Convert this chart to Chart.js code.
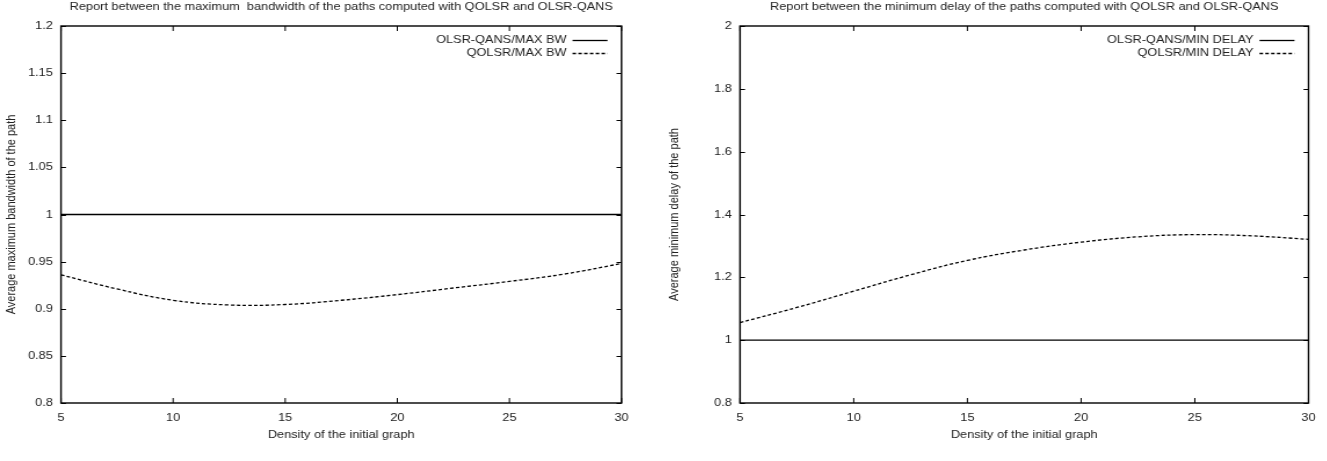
<!DOCTYPE html>
<html>
<head>
<meta charset="utf-8">
<script src="https://cdn.jsdelivr.net/npm/chart.js@4"></script>
<style>
  html, body { margin: 0; padding: 0; background: #fff; overflow: hidden; }
  /* the reference is stretched horizontally, so draw narrow and stretch */
  .wrap { position: absolute; top: 0; height: 461px; width: 572px;
          transform: scaleX(1.16); transform-origin: 0 0; }
  #left { left: 0; }
  #right { left: 663px; }
</style>
</head>
<body>
<div class="wrap" id="left"><canvas id="bwChart"></canvas></div>
<div class="wrap" id="right"><canvas id="delayChart"></canvas></div>
<script>
// density of the initial graph
const densities = [5, 7.5, 10, 12.5, 15, 17.5, 20, 22.5, 25, 27.5, 30];

// left: bandwidth ratio
const olsrMaxBw = [1, 1, 1, 1, 1, 1, 1, 1, 1, 1, 1];
const qolsrMaxBw = [0.936, 0.921, 0.909, 0.904, 0.9045, 0.909, 0.915, 0.922, 0.929, 0.937, 0.948];

// right: delay ratio
const olsrMinDelay = [1, 1, 1, 1, 1, 1, 1, 1, 1, 1, 1];
const qolsrMinDelay = [1.056, 1.104, 1.156, 1.208, 1.254, 1.287, 1.312, 1.329, 1.336, 1.332, 1.321];

const xTicks = [5, 10, 15, 20, 25, 30];
const bwTicks = [0.8, 0.85, 0.9, 0.95, 1, 1.05, 1.1, 1.15, 1.2];
const delayTicks = [0.8, 1, 1.2, 1.4, 1.6, 1.8, 2];

const K = 1.16; // horizontal stretch
const FONT = 'Liberation Sans, Arial, sans-serif';
const TXT = '#222';

const toPoints = (ys) => ys.map((y, i) => ({ x: densities[i], y: y }));

// gnuplot-ish frame: title over the plot, border, inward ticks on all sides, legend inside top right
const framePlugin = {
  id: 'frame',
  afterDatasetsDraw(chart, args, opts) {
    const { ctx, chartArea: a, scales } = chart;
    ctx.save();
    ctx.font = '11px ' + FONT;
    ctx.fillStyle = TXT;
    ctx.textAlign = 'center';
    ctx.textBaseline = 'middle';
    ctx.fillText(opts.title, (a.left + a.right) / 2, 7);

    ctx.strokeStyle = '#000';
    ctx.lineWidth = 1;
    ctx.beginPath();
    scales.x.ticks.forEach(tk => {
      const px = scales.x.getPixelForValue(tk.value);
      ctx.moveTo(px, a.bottom); ctx.lineTo(px, a.bottom - 5);
      ctx.moveTo(px, a.top); ctx.lineTo(px, a.top + 5);
    });
    scales.y.ticks.forEach(tk => {
      const py = Math.round(scales.y.getPixelForValue(tk.value)) + 0.5;
      ctx.moveTo(a.left, py); ctx.lineTo(a.left + 5 / K, py);
      ctx.moveTo(a.right, py); ctx.lineTo(a.right - 5 / K, py);
    });
    ctx.stroke();
    ctx.lineWidth = 1.4;
    ctx.strokeRect(a.left, a.top, a.right - a.left, a.bottom - a.top);

    // legend
    ctx.textAlign = 'right';
    chart.data.datasets.forEach((ds, i) => {
      const y = a.top + 14 + i * 13;
      ctx.fillText(ds.label, a.right - 55 / K, y);
      ctx.beginPath();
      ctx.setLineDash(ds.borderDash || []);
      ctx.lineWidth = ds.borderWidth;
      ctx.moveTo(a.right - 49 / K, y + 0.5);
      ctx.lineTo(a.right - 14 / K, y + 0.5);
      ctx.stroke();
    });
    ctx.restore();
  }
};

function makeChart(id, cfg) {
  return new Chart(document.getElementById(id), {
    type: 'line',
    data: {
      datasets: [
        { label: cfg.labels[0], data: toPoints(cfg.solid), borderColor: '#000', borderWidth: 1.3,
          pointRadius: 0, tension: 0 },
        { label: cfg.labels[1], data: toPoints(cfg.dashed), borderColor: '#000', borderWidth: 1.3,
          borderDash: [3, 2], pointRadius: 0, tension: 0.4 }
      ]
    },
    options: {
      responsive: true,
      maintainAspectRatio: false,
      animation: false,
      layout: { padding: { left: 0, right: cfg.padRight / K, top: 26, bottom: 0 } },
      plugins: {
        legend: { display: false },
        tooltip: { enabled: false },
        frame: { title: cfg.title }
      },
      scales: {
        x: {
          type: 'linear', min: 5, max: 30,
          afterBuildTicks: (s) => { s.ticks = xTicks.map(v => ({ value: v })); },
          afterFit: (s) => { s.height = 58; },
          grid: { display: false, drawTicks: false },
          border: { display: false },
          ticks: { color: TXT, font: { family: FONT, size: 11 }, padding: 8, maxRotation: 0 },
          title: { display: true, text: 'Density of the initial graph', color: TXT,
            font: { family: FONT, size: 11 }, padding: { top: 4, bottom: 19 } }
        },
        y: {
          min: cfg.yTicks[0], max: cfg.yTicks[cfg.yTicks.length - 1],
          afterBuildTicks: (s) => { s.ticks = cfg.yTicks.map(v => ({ value: v })); },
          afterFit: (s) => { s.width = cfg.yWidth / K; },
          grid: { display: false, drawTicks: false },
          border: { display: false },
          ticks: { color: TXT, font: { family: FONT, size: 11 }, padding: 7,
            callback: (v) => String(+v.toFixed(2)) },
          title: { display: true, text: cfg.yTitle, color: TXT,
            font: { family: FONT, size: 11 }, padding: { top: 3, bottom: 0 } }
        }
      }
    },
    plugins: [framePlugin]
  });
}

makeChart('bwChart', {
  title: 'Report between the maximum  bandwidth of the paths computed with QOLSR and OLSR-QANS',
  yTitle: 'Average maximum bandwidth of the path',
  labels: ['OLSR-QANS/MAX BW', 'QOLSR/MAX BW'],
  solid: olsrMaxBw, dashed: qolsrMaxBw, yTicks: bwTicks,
  yWidth: 61, padRight: 42
});

makeChart('delayChart', {
  title: 'Report between the minimum delay of the paths computed with QOLSR and OLSR-QANS',
  yTitle: 'Average minimum delay of the path',
  labels: ['OLSR-QANS/MIN DELAY', 'QOLSR/MIN DELAY'],
  solid: olsrMinDelay, dashed: qolsrMinDelay, yTicks: delayTicks,
  yWidth: 77, padRight: 18
});
</script>
</body>
</html>
